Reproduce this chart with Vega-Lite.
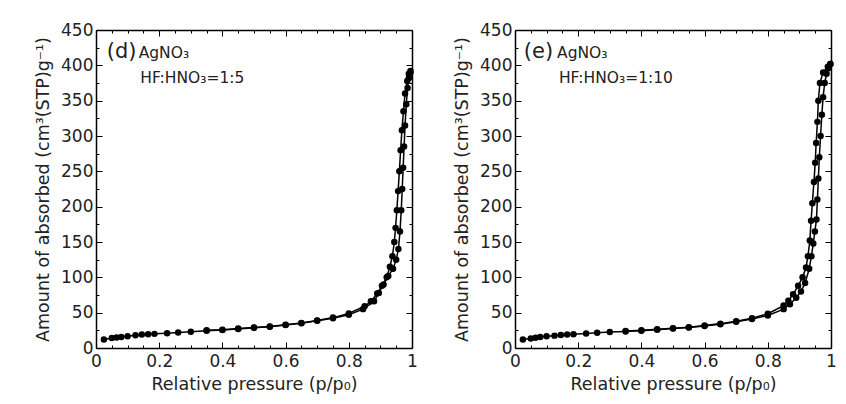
{
  "$schema": "https://vega.github.io/schema/vega-lite/v6.json",
  "background": "white",
  "padding": {"left": 34, "top": 21, "right": 12, "bottom": 4},
  "spacing": 35,
  "config": {
    "view": {"stroke": null},
    "axis": {
      "grid": false,
      "domainColor": "black",
      "domainWidth": 1.5,
      "tickColor": "black",
      "tickWidth": 1,
      "labelFont": "DejaVu Sans",
      "labelFontSize": 17,
      "labelColor": "#222",
      "titleFont": "DejaVu Sans",
      "titleFontSize": 17.5,
      "titleFontWeight": "normal",
      "titleColor": "#222",
      "labelFlush": false,
      "labelOverlap": false
    }
  },
  "datasets": {
    "iso": [
      {"panel": "d", "branch": "ads", "p": 0.025, "v": 12},
      {"panel": "d", "branch": "ads", "p": 0.05, "v": 14},
      {"panel": "d", "branch": "ads", "p": 0.065, "v": 15},
      {"panel": "d", "branch": "ads", "p": 0.08, "v": 15.5},
      {"panel": "d", "branch": "ads", "p": 0.1, "v": 16.5},
      {"panel": "d", "branch": "ads", "p": 0.125, "v": 18},
      {"panel": "d", "branch": "ads", "p": 0.145, "v": 19},
      {"panel": "d", "branch": "ads", "p": 0.165, "v": 19.5},
      {"panel": "d", "branch": "ads", "p": 0.185, "v": 20},
      {"panel": "d", "branch": "ads", "p": 0.225, "v": 21},
      {"panel": "d", "branch": "ads", "p": 0.26, "v": 22},
      {"panel": "d", "branch": "ads", "p": 0.3, "v": 23},
      {"panel": "d", "branch": "ads", "p": 0.35, "v": 24.5},
      {"panel": "d", "branch": "ads", "p": 0.4, "v": 25.5},
      {"panel": "d", "branch": "ads", "p": 0.45, "v": 27},
      {"panel": "d", "branch": "ads", "p": 0.5, "v": 28.5},
      {"panel": "d", "branch": "ads", "p": 0.55, "v": 30},
      {"panel": "d", "branch": "ads", "p": 0.6, "v": 32.5},
      {"panel": "d", "branch": "ads", "p": 0.65, "v": 35},
      {"panel": "d", "branch": "ads", "p": 0.7, "v": 38.5},
      {"panel": "d", "branch": "ads", "p": 0.75, "v": 42},
      {"panel": "d", "branch": "ads", "p": 0.8, "v": 47},
      {"panel": "d", "branch": "ads", "p": 0.845, "v": 55},
      {"panel": "d", "branch": "ads", "p": 0.88, "v": 66},
      {"panel": "d", "branch": "ads", "p": 0.895, "v": 78},
      {"panel": "d", "branch": "ads", "p": 0.91, "v": 90},
      {"panel": "d", "branch": "ads", "p": 0.925, "v": 102},
      {"panel": "d", "branch": "ads", "p": 0.94, "v": 112},
      {"panel": "d", "branch": "ads", "p": 0.95, "v": 125},
      {"panel": "d", "branch": "ads", "p": 0.957, "v": 140},
      {"panel": "d", "branch": "ads", "p": 0.962, "v": 165},
      {"panel": "d", "branch": "ads", "p": 0.966, "v": 195},
      {"panel": "d", "branch": "ads", "p": 0.969, "v": 225},
      {"panel": "d", "branch": "ads", "p": 0.972, "v": 255},
      {"panel": "d", "branch": "ads", "p": 0.975, "v": 285},
      {"panel": "d", "branch": "ads", "p": 0.978, "v": 315},
      {"panel": "d", "branch": "ads", "p": 0.982, "v": 345},
      {"panel": "d", "branch": "ads", "p": 0.986, "v": 368},
      {"panel": "d", "branch": "ads", "p": 0.99, "v": 382},
      {"panel": "d", "branch": "ads", "p": 0.995, "v": 390},
      {"panel": "d", "branch": "des", "p": 0.995, "v": 392},
      {"panel": "d", "branch": "des", "p": 0.99, "v": 388},
      {"panel": "d", "branch": "des", "p": 0.985, "v": 378},
      {"panel": "d", "branch": "des", "p": 0.978, "v": 360},
      {"panel": "d", "branch": "des", "p": 0.973, "v": 335},
      {"panel": "d", "branch": "des", "p": 0.968, "v": 308},
      {"panel": "d", "branch": "des", "p": 0.964, "v": 280},
      {"panel": "d", "branch": "des", "p": 0.96, "v": 250},
      {"panel": "d", "branch": "des", "p": 0.956, "v": 222},
      {"panel": "d", "branch": "des", "p": 0.952, "v": 195},
      {"panel": "d", "branch": "des", "p": 0.948, "v": 170},
      {"panel": "d", "branch": "des", "p": 0.944, "v": 150},
      {"panel": "d", "branch": "des", "p": 0.938, "v": 130},
      {"panel": "d", "branch": "des", "p": 0.93, "v": 115},
      {"panel": "d", "branch": "des", "p": 0.92, "v": 100},
      {"panel": "d", "branch": "des", "p": 0.905, "v": 88},
      {"panel": "d", "branch": "des", "p": 0.89, "v": 77},
      {"panel": "d", "branch": "des", "p": 0.87, "v": 66},
      {"panel": "d", "branch": "des", "p": 0.85, "v": 59},
      {"panel": "d", "branch": "des", "p": 0.8, "v": 49},
      {"panel": "d", "branch": "des", "p": 0.75, "v": 43},
      {"panel": "d", "branch": "des", "p": 0.7, "v": 39},
      {"panel": "d", "branch": "des", "p": 0.65, "v": 35.5},
      {"panel": "d", "branch": "des", "p": 0.6, "v": 33},
      {"panel": "d", "branch": "des", "p": 0.55, "v": 30.5},
      {"panel": "d", "branch": "des", "p": 0.5, "v": 29},
      {"panel": "d", "branch": "des", "p": 0.45, "v": 27.5},
      {"panel": "d", "branch": "des", "p": 0.4, "v": 26},
      {"panel": "d", "branch": "des", "p": 0.35, "v": 25},

      {"panel": "e", "branch": "ads", "p": 0.025, "v": 12},
      {"panel": "e", "branch": "ads", "p": 0.05, "v": 13.5},
      {"panel": "e", "branch": "ads", "p": 0.065, "v": 14.5},
      {"panel": "e", "branch": "ads", "p": 0.08, "v": 15.5},
      {"panel": "e", "branch": "ads", "p": 0.1, "v": 16.5},
      {"panel": "e", "branch": "ads", "p": 0.125, "v": 17.5},
      {"panel": "e", "branch": "ads", "p": 0.145, "v": 18.5},
      {"panel": "e", "branch": "ads", "p": 0.165, "v": 19},
      {"panel": "e", "branch": "ads", "p": 0.185, "v": 19.5},
      {"panel": "e", "branch": "ads", "p": 0.225, "v": 20.5},
      {"panel": "e", "branch": "ads", "p": 0.26, "v": 21.5},
      {"panel": "e", "branch": "ads", "p": 0.3, "v": 22.5},
      {"panel": "e", "branch": "ads", "p": 0.35, "v": 23.5},
      {"panel": "e", "branch": "ads", "p": 0.4, "v": 24.5},
      {"panel": "e", "branch": "ads", "p": 0.45, "v": 26},
      {"panel": "e", "branch": "ads", "p": 0.5, "v": 27.5},
      {"panel": "e", "branch": "ads", "p": 0.55, "v": 29},
      {"panel": "e", "branch": "ads", "p": 0.6, "v": 31},
      {"panel": "e", "branch": "ads", "p": 0.65, "v": 33.5},
      {"panel": "e", "branch": "ads", "p": 0.7, "v": 37},
      {"panel": "e", "branch": "ads", "p": 0.75, "v": 41},
      {"panel": "e", "branch": "ads", "p": 0.8, "v": 46},
      {"panel": "e", "branch": "ads", "p": 0.85, "v": 55},
      {"panel": "e", "branch": "ads", "p": 0.87, "v": 62},
      {"panel": "e", "branch": "ads", "p": 0.89, "v": 71},
      {"panel": "e", "branch": "ads", "p": 0.905, "v": 80},
      {"panel": "e", "branch": "ads", "p": 0.918, "v": 92},
      {"panel": "e", "branch": "ads", "p": 0.931, "v": 112},
      {"panel": "e", "branch": "ads", "p": 0.938, "v": 130},
      {"panel": "e", "branch": "ads", "p": 0.944, "v": 148},
      {"panel": "e", "branch": "ads", "p": 0.949, "v": 165},
      {"panel": "e", "branch": "ads", "p": 0.954, "v": 182},
      {"panel": "e", "branch": "ads", "p": 0.957, "v": 210},
      {"panel": "e", "branch": "ads", "p": 0.96, "v": 240},
      {"panel": "e", "branch": "ads", "p": 0.963, "v": 270},
      {"panel": "e", "branch": "ads", "p": 0.967, "v": 300},
      {"panel": "e", "branch": "ads", "p": 0.971, "v": 330},
      {"panel": "e", "branch": "ads", "p": 0.975, "v": 355},
      {"panel": "e", "branch": "ads", "p": 0.98, "v": 375},
      {"panel": "e", "branch": "ads", "p": 0.986, "v": 388},
      {"panel": "e", "branch": "ads", "p": 0.992, "v": 396},
      {"panel": "e", "branch": "ads", "p": 0.998, "v": 402},
      {"panel": "e", "branch": "des", "p": 0.998, "v": 402},
      {"panel": "e", "branch": "des", "p": 0.99, "v": 398},
      {"panel": "e", "branch": "des", "p": 0.975, "v": 390},
      {"panel": "e", "branch": "des", "p": 0.965, "v": 375},
      {"panel": "e", "branch": "des", "p": 0.96, "v": 350},
      {"panel": "e", "branch": "des", "p": 0.957, "v": 320},
      {"panel": "e", "branch": "des", "p": 0.953, "v": 290},
      {"panel": "e", "branch": "des", "p": 0.95, "v": 262},
      {"panel": "e", "branch": "des", "p": 0.946, "v": 235},
      {"panel": "e", "branch": "des", "p": 0.941, "v": 205},
      {"panel": "e", "branch": "des", "p": 0.937, "v": 180},
      {"panel": "e", "branch": "des", "p": 0.933, "v": 152},
      {"panel": "e", "branch": "des", "p": 0.927, "v": 130},
      {"panel": "e", "branch": "des", "p": 0.921, "v": 114},
      {"panel": "e", "branch": "des", "p": 0.91, "v": 100},
      {"panel": "e", "branch": "des", "p": 0.896, "v": 88},
      {"panel": "e", "branch": "des", "p": 0.88, "v": 76},
      {"panel": "e", "branch": "des", "p": 0.865, "v": 67},
      {"panel": "e", "branch": "des", "p": 0.85, "v": 60},
      {"panel": "e", "branch": "des", "p": 0.8, "v": 48.5},
      {"panel": "e", "branch": "des", "p": 0.75, "v": 42},
      {"panel": "e", "branch": "des", "p": 0.7, "v": 38},
      {"panel": "e", "branch": "des", "p": 0.65, "v": 34.5},
      {"panel": "e", "branch": "des", "p": 0.6, "v": 32},
      {"panel": "e", "branch": "des", "p": 0.55, "v": 29.5},
      {"panel": "e", "branch": "des", "p": 0.5, "v": 28},
      {"panel": "e", "branch": "des", "p": 0.45, "v": 26.5},
      {"panel": "e", "branch": "des", "p": 0.4, "v": 25},
      {"panel": "e", "branch": "des", "p": 0.35, "v": 24}
    ],
    "notes": [
      {"panel": "d", "label": "(d)", "kind": "big", "p": 0.034, "v": 419},
      {"panel": "d", "label": "AgNO₃", "kind": "small", "p": 0.135, "v": 417},
      {"panel": "d", "label": "HF:HNO₃=1:5", "kind": "small", "p": 0.14, "v": 382},
      {"panel": "e", "label": "(e)", "kind": "big", "p": 0.028, "v": 419},
      {"panel": "e", "label": "AgNO₃", "kind": "small", "p": 0.133, "v": 417},
      {"panel": "e", "label": "HF:HNO₃=1:10", "kind": "small", "p": 0.139, "v": 382}
    ]
  },
  "hconcat": [
    {
      "width": 316,
      "height": 318,
      "resolve": {"axis": {"x": "independent", "y": "independent"}},
      "layer": [
        {
          "data": {"name": "iso"},
          "transform": [{"filter": "datum.panel === 'd'"}],
          "mark": {"type": "line", "color": "black", "strokeWidth": 1.5},
          "encoding": {
            "x": {"field": "p", "type": "quantitative", "scale": {"domain": [0, 1], "nice": false},
              "axis": {"orient": "bottom", "values": [0,0.05,0.1,0.15,0.2,0.25,0.3,0.35,0.4,0.45,0.5,0.55,0.6,0.65,0.7,0.75,0.8,0.85,0.9,0.95,1], "format": "~g",
                "labelExpr": "abs(datum.value*5-round(datum.value*5))<1e-6 ? datum.label : ''",
                "tickSize": {"condition": {"test": "abs(datum.value*5-round(datum.value*5))<1e-6", "value": -6}, "value": -3},
                "labelPadding": 11, "title": "Relative pressure (p/p₀)", "titlePadding": 3}},
            "y": {"field": "v", "type": "quantitative", "scale": {"domain": [0, 450], "nice": false},
              "axis": {"orient": "left", "values": [0,25,50,75,100,125,150,175,200,225,250,275,300,325,350,375,400,425,450],
                "labelExpr": "datum.value % 50 === 0 ? datum.label : ''",
                "tickSize": {"condition": {"test": "datum.value % 50 === 0", "value": -6}, "value": -3},
                "labelPadding": 9, "title": "Amount of absorbed (cm³(STP)g⁻¹)", "titlePadding": 8}},
            "detail": {"field": "branch"}
          }
        },
        {
          "data": {"name": "iso"},
          "transform": [{"filter": "datum.panel === 'd'"}],
          "mark": {"type": "point", "filled": true, "color": "black", "opacity": 1, "size": 42},
          "encoding": {
            "x": {"field": "p", "type": "quantitative",
              "axis": {"orient": "top", "values": [0,0.05,0.1,0.15,0.2,0.25,0.3,0.35,0.4,0.45,0.5,0.55,0.6,0.65,0.7,0.75,0.8,0.85,0.9,0.95,1],
                "labels": false, "title": null,
                "tickSize": {"condition": {"test": "abs(datum.value*5-round(datum.value*5))<1e-6", "value": -6}, "value": -3}}},
            "y": {"field": "v", "type": "quantitative",
              "axis": {"orient": "right", "values": [0,25,50,75,100,125,150,175,200,225,250,275,300,325,350,375,400,425,450],
                "labels": false, "title": null,
                "tickSize": {"condition": {"test": "datum.value % 50 === 0", "value": -6}, "value": -3}}}
          }
        },
        {
          "data": {"name": "notes"},
          "transform": [{"filter": "datum.panel === 'd' && datum.kind === 'big'"}],
          "mark": {"type": "text", "align": "left", "baseline": "middle", "font": "DejaVu Sans", "fontSize": 21, "color": "#222"},
          "encoding": {
            "x": {"field": "p", "type": "quantitative", "axis": null},
            "y": {"field": "v", "type": "quantitative", "axis": null},
            "text": {"field": "label"}
          }
        },
        {
          "data": {"name": "notes"},
          "transform": [{"filter": "datum.panel === 'd' && datum.kind === 'small'"}],
          "mark": {"type": "text", "align": "left", "baseline": "middle", "font": "DejaVu Sans", "fontSize": 15.5, "color": "#222"},
          "encoding": {
            "x": {"field": "p", "type": "quantitative", "axis": null},
            "y": {"field": "v", "type": "quantitative", "axis": null},
            "text": {"field": "label"}
          }
        }
      ]
    },
    {
      "width": 316,
      "height": 318,
      "resolve": {"axis": {"x": "independent", "y": "independent"}},
      "layer": [
        {
          "data": {"name": "iso"},
          "transform": [{"filter": "datum.panel === 'e'"}],
          "mark": {"type": "line", "color": "black", "strokeWidth": 1.5},
          "encoding": {
            "x": {"field": "p", "type": "quantitative", "scale": {"domain": [0, 1], "nice": false},
              "axis": {"orient": "bottom", "values": [0,0.05,0.1,0.15,0.2,0.25,0.3,0.35,0.4,0.45,0.5,0.55,0.6,0.65,0.7,0.75,0.8,0.85,0.9,0.95,1], "format": "~g",
                "labelExpr": "abs(datum.value*5-round(datum.value*5))<1e-6 ? datum.label : ''",
                "tickSize": {"condition": {"test": "abs(datum.value*5-round(datum.value*5))<1e-6", "value": -6}, "value": -3},
                "labelPadding": 11, "title": "Relative pressure (p/p₀)", "titlePadding": 3}},
            "y": {"field": "v", "type": "quantitative", "scale": {"domain": [0, 450], "nice": false},
              "axis": {"orient": "left", "values": [0,25,50,75,100,125,150,175,200,225,250,275,300,325,350,375,400,425,450],
                "labelExpr": "datum.value % 50 === 0 ? datum.label : ''",
                "tickSize": {"condition": {"test": "datum.value % 50 === 0", "value": -6}, "value": -3},
                "labelPadding": 9, "title": "Amount of absorbed (cm³(STP)g⁻¹)", "titlePadding": 8}},
            "detail": {"field": "branch"}
          }
        },
        {
          "data": {"name": "iso"},
          "transform": [{"filter": "datum.panel === 'e'"}],
          "mark": {"type": "point", "filled": true, "color": "black", "opacity": 1, "size": 42},
          "encoding": {
            "x": {"field": "p", "type": "quantitative",
              "axis": {"orient": "top", "values": [0,0.05,0.1,0.15,0.2,0.25,0.3,0.35,0.4,0.45,0.5,0.55,0.6,0.65,0.7,0.75,0.8,0.85,0.9,0.95,1],
                "labels": false, "title": null,
                "tickSize": {"condition": {"test": "abs(datum.value*5-round(datum.value*5))<1e-6", "value": -6}, "value": -3}}},
            "y": {"field": "v", "type": "quantitative",
              "axis": {"orient": "right", "values": [0,25,50,75,100,125,150,175,200,225,250,275,300,325,350,375,400,425,450],
                "labels": false, "title": null,
                "tickSize": {"condition": {"test": "datum.value % 50 === 0", "value": -6}, "value": -3}}}
          }
        },
        {
          "data": {"name": "notes"},
          "transform": [{"filter": "datum.panel === 'e' && datum.kind === 'big'"}],
          "mark": {"type": "text", "align": "left", "baseline": "middle", "font": "DejaVu Sans", "fontSize": 21, "color": "#222"},
          "encoding": {
            "x": {"field": "p", "type": "quantitative", "axis": null},
            "y": {"field": "v", "type": "quantitative", "axis": null},
            "text": {"field": "label"}
          }
        },
        {
          "data": {"name": "notes"},
          "transform": [{"filter": "datum.panel === 'e' && datum.kind === 'small'"}],
          "mark": {"type": "text", "align": "left", "baseline": "middle", "font": "DejaVu Sans", "fontSize": 15.5, "color": "#222"},
          "encoding": {
            "x": {"field": "p", "type": "quantitative", "axis": null},
            "y": {"field": "v", "type": "quantitative", "axis": null},
            "text": {"field": "label"}
          }
        }
      ]
    }
  ]
}
